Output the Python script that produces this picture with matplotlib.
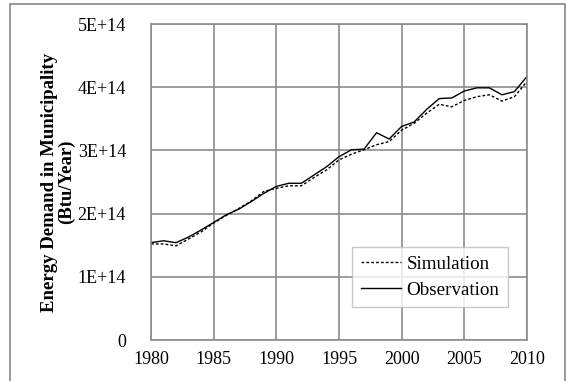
import numpy as np
import matplotlib.pyplot as plt
from matplotlib.patches import Rectangle

plt.rc('font', family=['Liberation Serif', 'DejaVu Serif'])

years = np.arange(1980, 2011)

# energy demand in units of 1e14 Btu/year
observation = [1.54, 1.57, 1.54, 1.63, 1.74, 1.86, 1.98, 2.07, 2.19, 2.32,
               2.43, 2.48, 2.48, 2.61, 2.74, 2.90, 3.01, 3.02, 3.28, 3.18,
               3.38, 3.45, 3.65, 3.82, 3.83, 3.94, 3.99, 3.99, 3.88, 3.93,
               4.17]
simulation = [1.52, 1.52, 1.49, 1.60, 1.71, 1.85, 1.97, 2.08, 2.20, 2.35,
              2.40, 2.44, 2.44, 2.57, 2.69, 2.85, 2.94, 3.01, 3.09, 3.14,
              3.32, 3.43, 3.59, 3.73, 3.69, 3.79, 3.85, 3.88, 3.78, 3.85,
              4.09]

ytick_vals = [0, 1e14, 2e14, 3e14, 4e14, 5e14]
ytick_labels = ['0', '1E+14', '2E+14', '3E+14', '4E+14', '5E+14']
xtick_vals = [1980, 1985, 1990, 1995, 2000, 2005, 2010]


def main():
    fig = plt.figure(figsize=(5.71, 3.81), dpi=100)
    ax = fig.add_axes([0.2644, 0.1076, 0.6585, 0.8294])

    grid_col = '#8c8c8c'
    ax.plot(years, np.array(simulation) * 1e14, color='black', lw=1.0,
            linestyle=(0, (2, 1.5)), label='Simulation')
    ax.plot(years, np.array(observation) * 1e14, color='black', lw=1.0,
            label='Observation')

    ax.set_xlim(1980, 2010)
    ax.set_ylim(0, 5e14)
    ax.set_xticks(xtick_vals)
    ax.set_yticks(ytick_vals)
    ax.set_yticklabels(ytick_labels)
    ax.tick_params(length=0, labelsize=13)
    ax.tick_params(axis='y', pad=18)
    ax.tick_params(axis='x', pad=8)
    ax.grid(True, color=grid_col, lw=1.2)
    ax.set_axisbelow(True)
    for s in ax.spines.values():
        s.set_color(grid_col)
        s.set_linewidth(1.2)

    ax.set_ylabel('Energy Demand in Municipality\n(Btu/Year)',
                  fontsize=13.5, fontweight='bold', linespacing=0.95,
                  labelpad=2)

    leg = ax.legend(loc='lower right', bbox_to_anchor=(0.949, 0.104),
                    fontsize=13.7, handlelength=2.1, handletextpad=0.3,
                    fancybox=False, borderpad=0.45, labelspacing=0.45,
                    borderaxespad=0)
    leg.get_frame().set_edgecolor('#bbbbbb')
    leg.get_frame().set_linewidth(1.0)

    # outer chart frame
    frame = Rectangle((10 / 571, -0.05), 555 / 571, 1.04,
                      transform=fig.transFigure, fill=False,
                      edgecolor='#888888', lw=1.2, clip_on=False)
    fig.patches.append(frame)

    fig.savefig('out.png', dpi=100)


if __name__ == '__main__':
    main()
